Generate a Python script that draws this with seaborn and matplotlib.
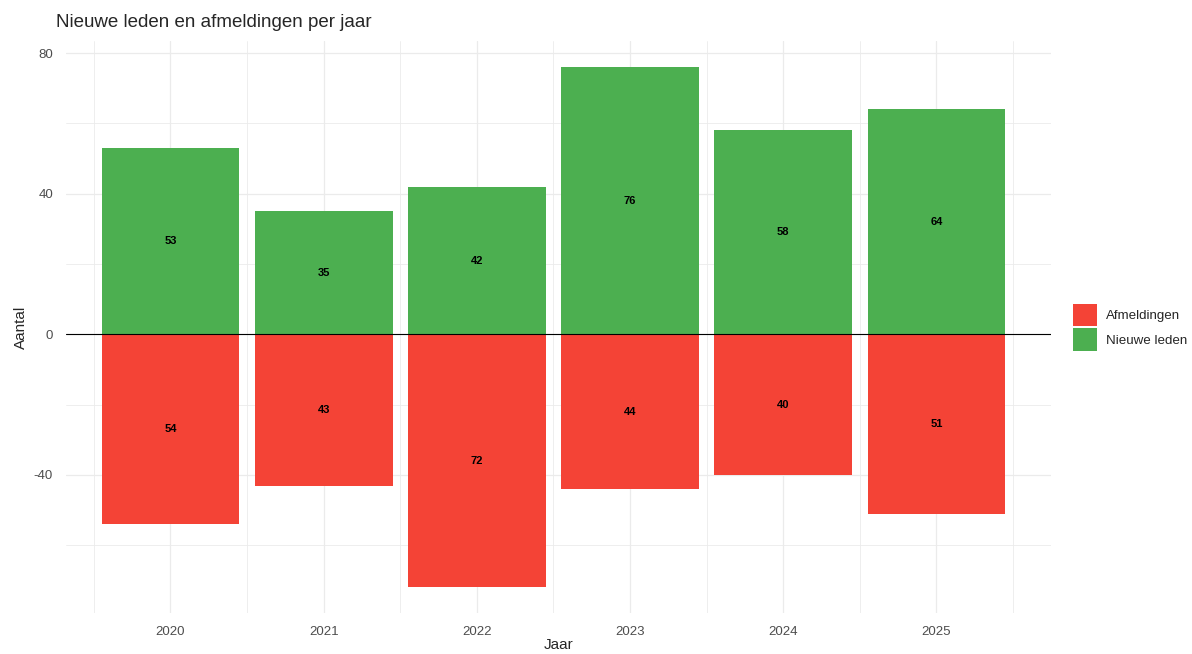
import seaborn as sns
import matplotlib.pyplot as plt
import pandas as pd
from matplotlib.ticker import MultipleLocator

# data
jaren = ["2020", "2021", "2022", "2023", "2024", "2025"]
nieuwe_leden = [53, 35, 42, 76, 58, 64]
afmeldingen = [54, 43, 72, 44, 40, 51]

df = pd.DataFrame({
    "Jaar": jaren * 2,
    "Aantal": [-v for v in afmeldingen] + nieuwe_leden,
    "Type": ["Afmeldingen"] * 6 + ["Nieuwe leden"] * 6,
})

sns.set_theme(style="white")
plt.rcParams["font.family"] = ["Liberation Sans", "DejaVu Sans"]
plt.rcParams["axes.unicode_minus"] = False

fig, ax = plt.subplots(figsize=(11.92, 6.54), dpi=100)
fig.subplots_adjust(left=0.055, right=0.882, top=0.937, bottom=0.062)

kleuren = {"Afmeldingen": "#F44336", "Nieuwe leden": "#4CAF50"}
sns.barplot(data=df, x="Jaar", y="Aantal", hue="Type", order=jaren,
            hue_order=["Afmeldingen", "Nieuwe leden"], palette=kleuren,
            dodge=False, width=0.9, saturation=1, linewidth=0, ax=ax, zorder=2)

# labels in het midden van de balken
for c in ax.containers:
    ax.bar_label(c, labels=[f"{abs(b.get_height()):.0f}" for b in c],
                 label_type="center", fontsize=8, fontweight="bold", color="black")

ax.axhline(0, color="black", lw=0.8, zorder=3)

# grid zoals ggplot theme_minimal
ax.set_ylim(-79.4, 83.4)
ax.set_xlim(-0.685, 5.75)
ax.yaxis.set_major_locator(MultipleLocator(40))
ax.yaxis.set_minor_locator(MultipleLocator(20))
ax.xaxis.set_minor_locator(MultipleLocator(1, offset=0.5))
ax.grid(which="major", color="#EBEBEB", lw=0.9, zorder=0)
ax.grid(which="minor", color="#EBEBEB", lw=0.6, zorder=0)
ax.set_axisbelow(True)
for s in ax.spines.values():
    s.set_visible(False)
ax.tick_params(which="both", length=0, labelsize=9.5, labelcolor="#4D4D4D", pad=9)

ax.set_title("Nieuwe leden en afmeldingen per jaar", loc="left", fontsize=13.5,
             x=-0.01, pad=10)
ax.set_xlabel("Jaar", fontsize=11, labelpad=0)
ax.set_ylabel("Aantal", fontsize=11, labelpad=4)

ax.legend(title=None, frameon=False, loc="center left", bbox_to_anchor=(1.01, 0.5),
          fontsize=9.6, handlelength=1.75, handleheight=2.2, handletextpad=0.7,
          labelspacing=0.15)

fig.savefig("out.png", dpi=100)
